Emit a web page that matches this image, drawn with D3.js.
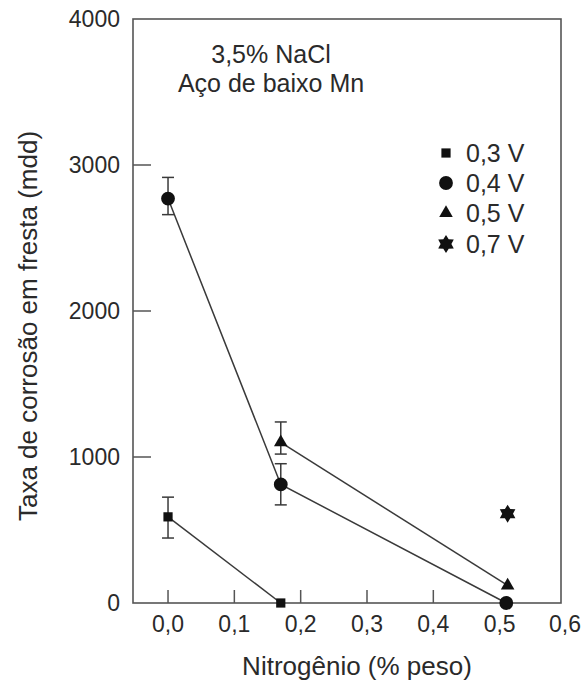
<!doctype html>
<html>
<head>
<meta charset="utf-8"/>
<script src="https://cdnjs.cloudflare.com/ajax/libs/d3/7.8.5/d3.min.js"></script>
<style>
  body { margin: 0; background: #fff; }
  svg text { font-family: "Liberation Sans", Arial, sans-serif; fill: #2a2a2a; }
</style>
</head>
<body>
<svg id="chart" width="583" height="683"></svg>
<script>
// data
var xTicks = [0, 0.1, 0.2, 0.3, 0.4, 0.5, 0.6];
var yTicks = [0, 1000, 2000, 3000, 4000];
var seriesNames = ["0,3 V", "0,4 V", "0,5 V", "0,7 V"];

var x03 = [0, 0.17], y03 = [590, 0], e03lo = [145, 0], e03hi = [135, 0];
var x04 = [0, 0.17, 0.51], y04 = [2770, 812, 0], e04lo = [110, 140, 0], e04hi = [145, 142, 0];
var x05 = [0.17, 0.512], y05 = [1100, 120], e05lo = [80, 0], e05hi = [140, 0];
var x07 = [0.512], y07 = [612];

var svg = d3.select("#chart");
var pLeft = 133, pRight = 561, pTop = 19, pBottom = 603;

var x = d3.scaleLinear().domain([-0.0528, 0.5925]).range([pLeft, pRight]);
var y = d3.scaleLinear().domain([0, 4000]).range([pBottom, pTop]);

var ink = "#3a3a3a";

// frame
svg.append("rect")
  .attr("x", pLeft).attr("y", pTop)
  .attr("width", pRight - pLeft).attr("height", pBottom - pTop)
  .attr("fill", "none").attr("stroke", "#555").attr("stroke-width", 1.6);

// x ticks (inside) and labels
svg.selectAll("line.xt").data(xTicks.filter(d => d <= 0.4))
  .enter().append("line")
  .attr("x1", d => x(d)).attr("x2", d => x(d))
  .attr("y1", pBottom).attr("y2", pBottom - 13)
  .attr("stroke", "#555").attr("stroke-width", 1.5);
svg.selectAll("text.xl").data(xTicks)
  .enter().append("text")
  .attr("x", d => Math.min(x(d), 565)).attr("y", 632)
  .attr("text-anchor", "middle").attr("font-size", 23)
  .text(d => d3.format(".1f")(d).replace(".", ","));

// y ticks (inside) and labels
svg.selectAll("line.yt").data(yTicks.filter(d => d > 0 && d < 4000))
  .enter().append("line")
  .attr("x1", pLeft).attr("x2", pLeft + 18)
  .attr("y1", d => y(d)).attr("y2", d => y(d))
  .attr("stroke", "#555").attr("stroke-width", 1.5);
svg.selectAll("text.yl").data(yTicks)
  .enter().append("text")
  .attr("x", 120).attr("y", d => y(d) + 8)
  .attr("text-anchor", "end").attr("font-size", 23)
  .text(d => d);

// axis titles
svg.append("text")
  .attr("x", 357).attr("y", 675)
  .attr("text-anchor", "middle").attr("font-size", 26)
  .text("Nitrogênio (% peso)");
svg.append("text")
  .attr("transform", "translate(37,326) rotate(-90)")
  .attr("text-anchor", "middle").attr("font-size", 26)
  .text("Taxa de corrosão em fresta (mdd)");

// annotation
svg.append("text").attr("x", 271).attr("y", 63)
  .attr("text-anchor", "middle").attr("font-size", 25).text("3,5% NaCl");
svg.append("text").attr("x", 271).attr("y", 92)
  .attr("text-anchor", "middle").attr("font-size", 25).text("Aço de baixo Mn");

// marker shapes
function star6(r) {
  var pts = [];
  for (var i = 0; i < 12; i++) {
    var a = i * Math.PI / 6;
    var rr = i % 2 === 0 ? r : r * 0.6;
    pts.push([rr * Math.sin(a), -rr * Math.cos(a)]);
  }
  return "M" + pts.map(p => p.join(",")).join("L") + "Z";
}
var shapes = [
  d3.symbol().type(d3.symbolSquare).size(85)(),
  d3.symbol().type(d3.symbolCircle).size(150)(),
  d3.symbol().type(d3.symbolTriangle).size(80)(),
  star6(9)
];

var series = [
  {xs: x03, ys: y03, lo: e03lo, hi: e03hi},
  {xs: x04, ys: y04, lo: e04lo, hi: e04hi},
  {xs: x05, ys: y05, lo: e05lo, hi: e05hi},
  {xs: x07, ys: y07, lo: [0], hi: [0]}
];

var line = d3.line().x(d => x(d[0])).y(d => y(d[1]));

series.forEach(function (s, k) {
  var pts = s.xs.map((v, i) => [v, s.ys[i], s.lo[i], s.hi[i]]);
  var g = svg.append("g");
  if (pts.length > 1) {
    g.append("path").attr("d", line(pts))
      .attr("fill", "none").attr("stroke", ink).attr("stroke-width", 1.5);
  }
  var eb = g.selectAll("g.eb").data(pts.filter(p => p[2] > 0 || p[3] > 0))
    .enter().append("g");
  eb.append("line")
    .attr("x1", p => x(p[0])).attr("x2", p => x(p[0]))
    .attr("y1", p => y(p[1] - p[2])).attr("y2", p => y(p[1] + p[3]))
    .attr("stroke", ink).attr("stroke-width", 1.5);
  eb.append("line")
    .attr("x1", p => x(p[0]) - 6).attr("x2", p => x(p[0]) + 6)
    .attr("y1", p => y(p[1] + p[3])).attr("y2", p => y(p[1] + p[3]))
    .attr("stroke", ink).attr("stroke-width", 1.5);
  eb.append("line")
    .attr("x1", p => x(p[0]) - 6).attr("x2", p => x(p[0]) + 6)
    .attr("y1", p => y(p[1] - p[2])).attr("y2", p => y(p[1] - p[2]))
    .attr("stroke", ink).attr("stroke-width", 1.5);
  g.selectAll("path.m").data(pts).enter().append("path")
    .attr("d", shapes[k])
    .attr("transform", p => "translate(" + x(p[0]) + "," + y(p[1]) + ")")
    .attr("fill", "#111");
});

// legend
var legY = [153, 183, 213, 244];
seriesNames.forEach(function (name, k) {
  svg.append("path").attr("d", shapes[k])
    .attr("transform", "translate(446," + legY[k] + ")")
    .attr("fill", "#111");
  svg.append("text").attr("x", 466).attr("y", legY[k] + 9)
    .attr("font-size", 25).text(name);
});
</script>
</body>
</html>
